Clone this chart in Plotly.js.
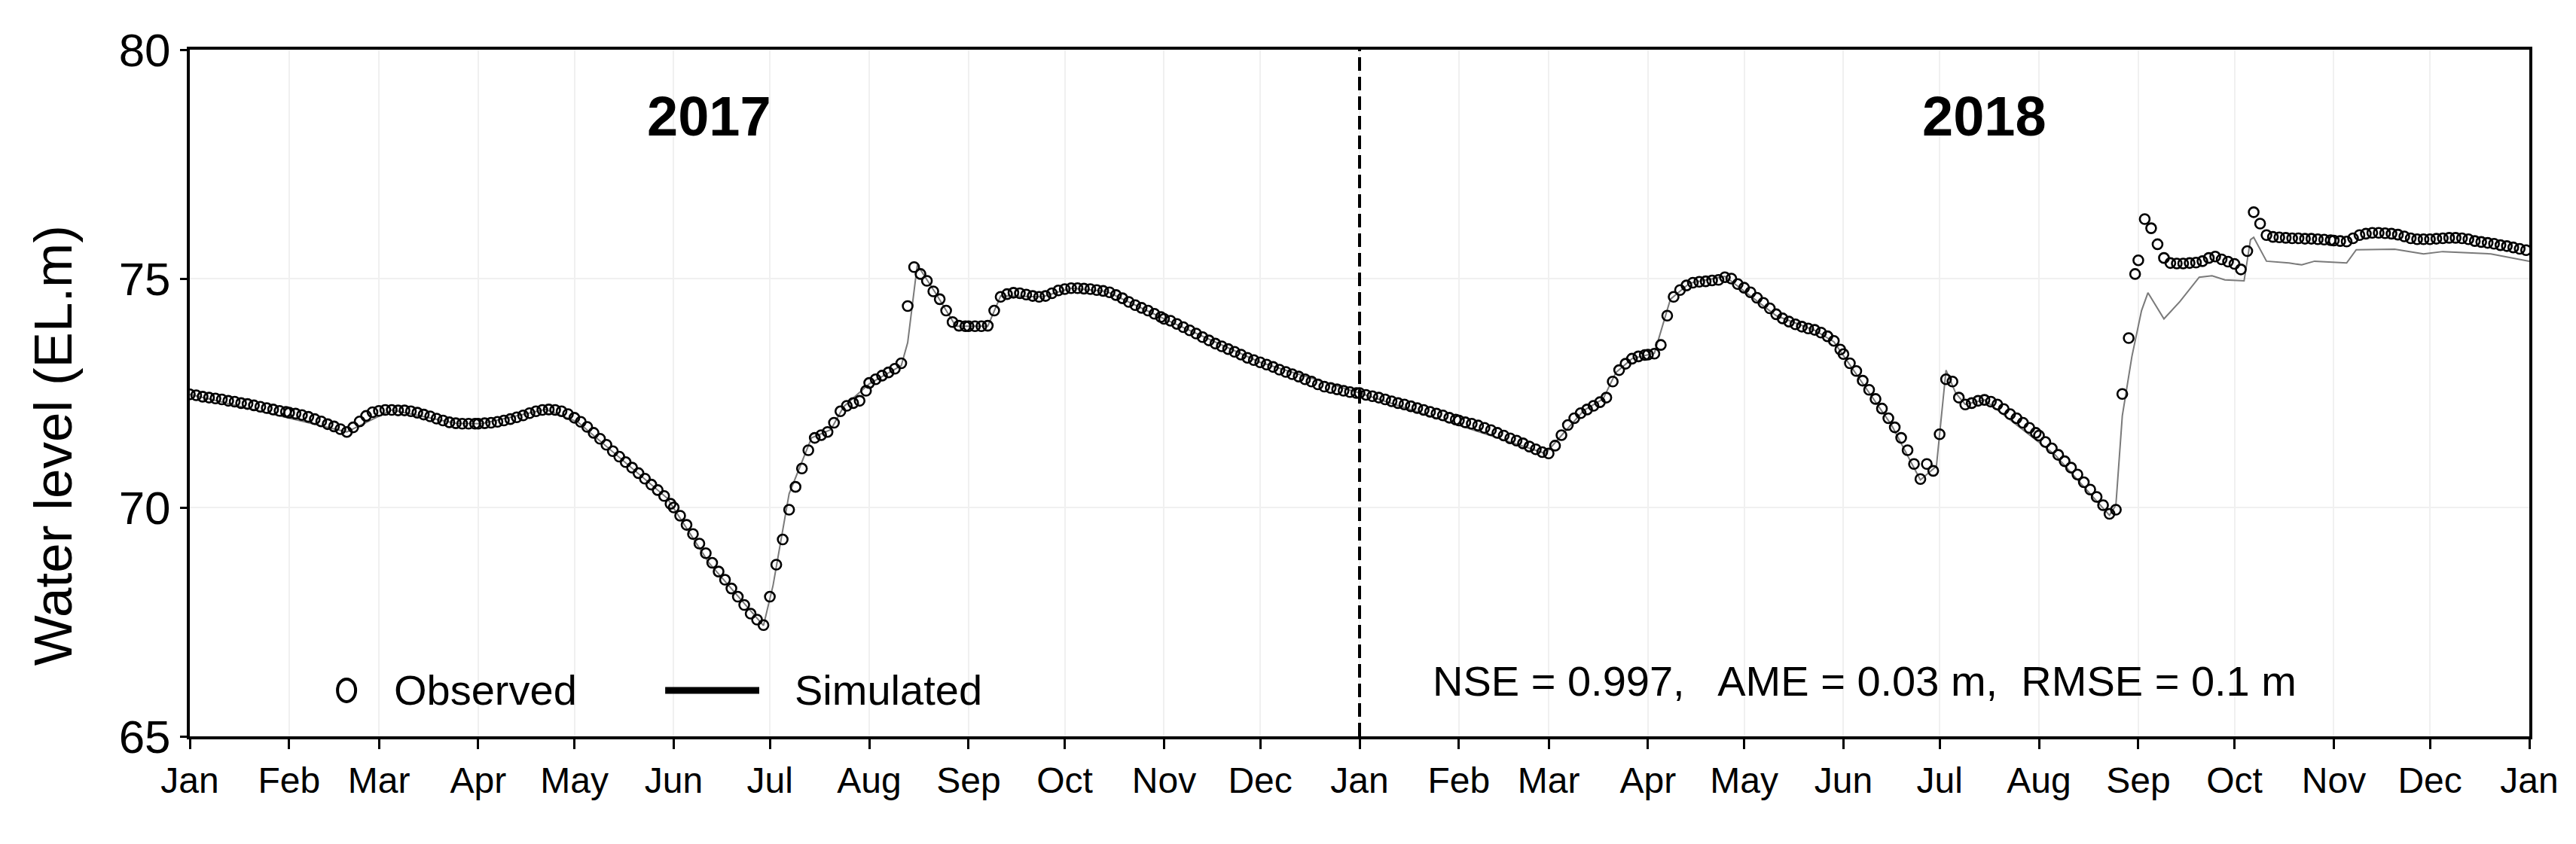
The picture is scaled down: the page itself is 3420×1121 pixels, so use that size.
<!DOCTYPE html>
<html>
<head>
<meta charset="utf-8">
<script src="https://cdn.plot.ly/plotly-3.0.1.min.js"></script>
<style>html,body{margin:0;padding:0;background:#fff;}#chart{width:3420px;height:1121px;}</style>
</head>
<body>
<div id="chart"></div>
<script>
// ---------- DATA (observed water level, read every 2nd day: day 1,3,5,... of each month) ----------
const obsJan2017 = [72.47,72.45,72.42,72.40,72.38,72.36,72.33,72.31,72.28,72.26,72.23,72.20,72.17,72.14,72.11,72.09];
const obsFeb2017 = [72.07,72.05,72.02,71.98,71.93,71.88,71.82,71.77,71.71,71.65,71.75,71.88,72.00,72.08];
const obsMar2017 = [72.11,72.13,72.13,72.12,72.12,72.10,72.07,72.03,71.99,71.94,71.90,71.86,71.84,71.83,71.83,71.83];
const obsApr2017 = [71.83,71.84,71.85,71.87,71.90,71.93,71.97,72.01,72.06,72.10,72.13,72.14,72.13,72.10,72.04];
const obsMay2017 = [71.96,71.87,71.76,71.63,71.50,71.37,71.23,71.11,70.99,70.87,70.75,70.63,70.50,70.38,70.25,70.08];
const obsJun2017 = [70.00,69.82,69.62,69.42,69.21,69.00,68.79,68.60,68.42,68.23,68.05,67.87,67.68,67.55,67.43];
const obsJul2017 = [68.05,68.75,69.30,69.95,70.45,70.85,71.25,71.52,71.58,71.65,71.85,72.10,72.22,72.28,72.33,72.55];
const obsAug2017 = [72.72,72.80,72.88,72.95,73.03,73.15,74.40,75.25,75.10,74.95,74.72,74.55,74.30,74.05,73.97,73.96];
const obsSep2017 = [73.96,73.96,73.96,73.97,74.30,74.60,74.66,74.69,74.68,74.65,74.62,74.60,74.62,74.68,74.74];
const obsOct2017 = [74.77,74.79,74.79,74.78,74.77,74.75,74.73,74.70,74.64,74.57,74.49,74.42,74.36,74.30,74.23,74.16];
const obsNov2017 = [74.12,74.08,74.01,73.94,73.87,73.80,73.72,73.65,73.58,73.52,73.46,73.40,73.34,73.27,73.22];
const obsDec2017 = [73.17,73.12,73.07,73.01,72.96,72.91,72.86,72.80,72.75,72.69,72.64,72.61,72.58,72.55,72.52,72.50];

const obsJan2018 = [72.50,72.46,72.43,72.40,72.36,72.32,72.28,72.25,72.21,72.17,72.13,72.09,72.05,72.01,71.96,71.92];
const obsFeb2018 = [71.90,71.86,71.83,71.79,71.74,71.69,71.63,71.57,71.51,71.46,71.40,71.33,71.27,71.21];
const obsMar2018 = [71.18,71.35,71.58,71.80,71.95,72.06,72.14,72.22,72.30,72.40,72.75,73.00,73.14,73.25,73.30,73.33];
const obsApr2018 = [73.34,73.36,73.55,74.19,74.60,74.75,74.85,74.91,74.93,74.94,74.96,74.97,75.03,75.00,74.88];
const obsMay2018 = [74.80,74.70,74.58,74.47,74.35,74.22,74.13,74.06,74.00,73.95,73.91,73.88,73.82,73.74,73.64,73.45];
const obsJun2018 = [73.35,73.15,72.98,72.77,72.57,72.37,72.16,71.95,71.75,71.52,71.25,70.95,70.62,70.95,70.80];
const obsJul2018 = [71.60,72.80,72.75,72.40,72.25,72.28,72.33,72.35,72.31,72.25,72.15,72.04,71.95,71.85,71.74,71.63];
const obsAug2018 = [71.57,71.43,71.29,71.15,71.01,70.87,70.72,70.55,70.39,70.23,70.05,69.86,69.95,72.48,73.70,75.10];
const obsSep2018 = [75.40,76.30,76.10,75.75,75.45,75.34,75.33,75.33,75.34,75.35,75.38,75.45,75.48,75.42,75.37];
const obsOct2018 = [75.32,75.20,75.60,76.45,76.20,75.95,75.91,75.90,75.89,75.88,75.88,75.87,75.87,75.86,75.85,75.84];
const obsNov2018 = [75.83,75.82,75.81,75.88,75.95,75.98,76.00,76.00,75.99,75.98,75.96,75.92,75.88,75.86,75.86];
const obsDec2018 = [75.86,75.87,75.88,75.89,75.89,75.88,75.86,75.82,75.80,75.78,75.76,75.73,75.71,75.68,75.65,75.62];

// ---------- DATA (simulated water level, vertices of the line) ----------
const simDates2017 = ['2017-01-01','2017-02-19','2017-03-05','2017-03-25','2017-04-02','2017-04-22','2017-05-02','2017-05-30','2017-06-12','2017-06-29','2017-07-02','2017-07-07','2017-07-14','2017-07-20','2017-07-24','2017-08-01','2017-08-11','2017-08-13','2017-08-16','2017-08-22','2017-08-28','2017-09-07','2017-09-11','2017-09-24','2017-10-03','2017-10-14','2017-11-02','2017-12-01'];
const simLevels2017 = [72.47,71.65,72.13,71.84,71.83,72.14,71.87,70.20,68.79,67.42,68.30,70.30,71.52,71.70,72.20,72.70,73.10,73.60,75.30,74.65,73.96,73.96,74.62,74.60,74.79,74.72,74.09,73.17];
const simDates2018 = ['2018-01-01','2018-02-28','2018-03-12','2018-03-18','2018-03-22','2018-03-27','2018-04-03','2018-04-08','2018-04-14','2018-04-25','2018-05-11','2018-05-23','2018-05-29','2018-06-16','2018-06-25','2018-06-30','2018-07-03','2018-07-06','2018-07-09','2018-07-15','2018-08-06','2018-08-23','2018-08-25','2018-08-27','2018-08-30','2018-09-02','2018-09-04','2018-09-09','2018-09-14','2018-09-20','2018-09-24','2018-09-28','2018-10-04','2018-10-06','2018-10-07','2018-10-11','2018-10-18','2018-10-22','2018-10-26','2018-11-05','2018-11-08','2018-11-20','2018-11-29','2018-12-05','2018-12-20','2019-01-01'];
const simLevels2018 = [72.50,71.18,72.12,72.37,72.95,73.25,73.37,74.55,74.90,75.05,74.19,73.87,73.62,71.80,70.60,70.90,73.00,72.50,72.25,72.35,71.15,69.83,70.05,72.00,73.30,74.30,74.69,74.12,74.50,75.03,75.06,74.97,74.95,75.85,75.90,75.38,75.34,75.30,75.38,75.34,75.63,75.64,75.54,75.59,75.54,75.38];

// ---------- LABELS ----------
const monthLabels = ['Jan','Feb','Mar','Apr','May','Jun','Jul','Aug','Sep','Oct','Nov','Dec'];
const years = [2017, 2018];
const yearLabels = [{text:'2017', date:'2017-06-12', level:78.55},{text:'2018', date:'2018-07-15', level:78.55}];
const statsText = 'NSE = 0.997,\u00a0\u00a0 AME = 0.03 m,\u00a0 RMSE = 0.1 m';
const yTitle = 'Water level (EL.m)';
const yTicks = [65, 70, 75, 80];

const observedMonths = [
  [2017,1,obsJan2017],[2017,2,obsFeb2017],[2017,3,obsMar2017],[2017,4,obsApr2017],
  [2017,5,obsMay2017],[2017,6,obsJun2017],[2017,7,obsJul2017],[2017,8,obsAug2017],
  [2017,9,obsSep2017],[2017,10,obsOct2017],[2017,11,obsNov2017],[2017,12,obsDec2017],
  [2018,1,obsJan2018],[2018,2,obsFeb2018],[2018,3,obsMar2018],[2018,4,obsApr2018],
  [2018,5,obsMay2018],[2018,6,obsJun2018],[2018,7,obsJul2018],[2018,8,obsAug2018],
  [2018,9,obsSep2018],[2018,10,obsOct2018],[2018,11,obsNov2018],[2018,12,obsDec2018]
];

function pad(n){return (n<10?'0':'')+n;}
const obsX = [], obsY = [];
observedMonths.forEach(([yr, mo, vals]) => {
  vals.forEach((v, i) => { obsX.push(yr+'-'+pad(mo)+'-'+pad(1+2*i)); obsY.push(v); });
});
const simX = simDates2017.concat(simDates2018);
const simY = simLevels2017.concat(simLevels2018);

const tickvals = [], ticktext = [];
years.forEach(yr => monthLabels.forEach((m, i) => { tickvals.push(yr+'-'+pad(i+1)+'-01'); ticktext.push(m); }));
tickvals.push('2019-01-01'); ticktext.push(monthLabels[0]);

const NARROW = 'Liberation Sans Narrow, Arial Narrow, Liberation Sans, Arial, sans-serif';
const REGULAR = 'Liberation Sans, Arial, sans-serif';

const traces = [
  {x: simX, y: simY, mode:'lines', type:'scatter', name:'Simulated', line:{color:'#7a7a7a', width:2}},
  {x: obsX, y: obsY, mode:'markers', type:'scatter', name:'Observed',
   marker:{symbol:'circle-open', size:13, color:'#000', line:{width:2.6, color:'#000'}}}
];

// legend placement (paper coords)
const legY = 0.067;
const shapes = [
  {type:'line', xref:'x', yref:'paper', x0:'2018-01-01', x1:'2018-01-01', y0:0, y1:1,
   line:{color:'#000', width:4, dash:'18px,8px'}},
  {type:'circle', xref:'paper', yref:'paper', xsizemode:'pixel', ysizemode:'pixel',
   xanchor:0.067, yanchor:legY, x0:-12, x1:12, y0:-15, y1:15, line:{color:'#000', width:4}},
  {type:'line', xref:'paper', yref:'paper', x0:0.2032, x1:0.2434, y0:legY, y1:legY,
   line:{color:'#000', width:9}}
];

const annotations = [
  {xref:'paper', yref:'paper', x:-0.0586, y:0.424, xanchor:'center', yanchor:'middle', showarrow:false,
   textangle:-90, text:yTitle, font:{family:REGULAR, size:71, color:'#000'}},
  {xref:'paper', yref:'paper', x:0.0866, y:legY, xanchor:'left', yanchor:'middle', showarrow:false,
   text:'Observed', font:{family:NARROW, size:56, color:'#000'}},
  {xref:'paper', yref:'paper', x:0.2579, y:legY, xanchor:'left', yanchor:'middle', showarrow:false,
   text:'Simulated', font:{family:NARROW, size:56, color:'#000'}},
  {xref:'paper', yref:'paper', x:0.716, y:0.081, xanchor:'center', yanchor:'middle', showarrow:false,
   text:statsText, font:{family:NARROW, size:56, color:'#000'}}
].concat(yearLabels.map(l => ({xref:'x', yref:'y', x:l.date, y:l.level, xanchor:'center', yanchor:'middle',
   showarrow:false, text:'<b>'+l.text+'</b>', font:{family:NARROW, size:74, color:'#000'}})));

const layout = {
  width:3420, height:1121,
  margin:{l:252, r:62, t:66, b:143, pad:0},
  paper_bgcolor:'#fff', plot_bgcolor:'#fff',
  showlegend:false,
  xaxis:{type:'date', range:['2017-01-01','2019-01-01'], tickvals:tickvals, ticktext:ticktext,
    ticks:'outside', ticklen:13, tickwidth:3, tickcolor:'#000',
    showline:true, mirror:true, linewidth:4, linecolor:'#000',
    showgrid:true, gridcolor:'#f0f0f0', gridwidth:2, zeroline:false,
    tickfont:{family:NARROW, size:48, color:'#000'}, automargin:false},
  yaxis:{range:[65,80], tickvals:yTicks, ticks:'outside', ticklen:9, tickwidth:3, tickcolor:'#000',
    showline:true, mirror:true, linewidth:4, linecolor:'#000',
    showgrid:true, gridcolor:'#f0f0f0', gridwidth:2, zeroline:false,
    tickfont:{family:NARROW, size:62, color:'#000'}, automargin:false},
  shapes:shapes,
  annotations:annotations
};

Plotly.newPlot('chart', traces, layout, {displayModeBar:false, staticPlot:true});
</script>
</body>
</html>
